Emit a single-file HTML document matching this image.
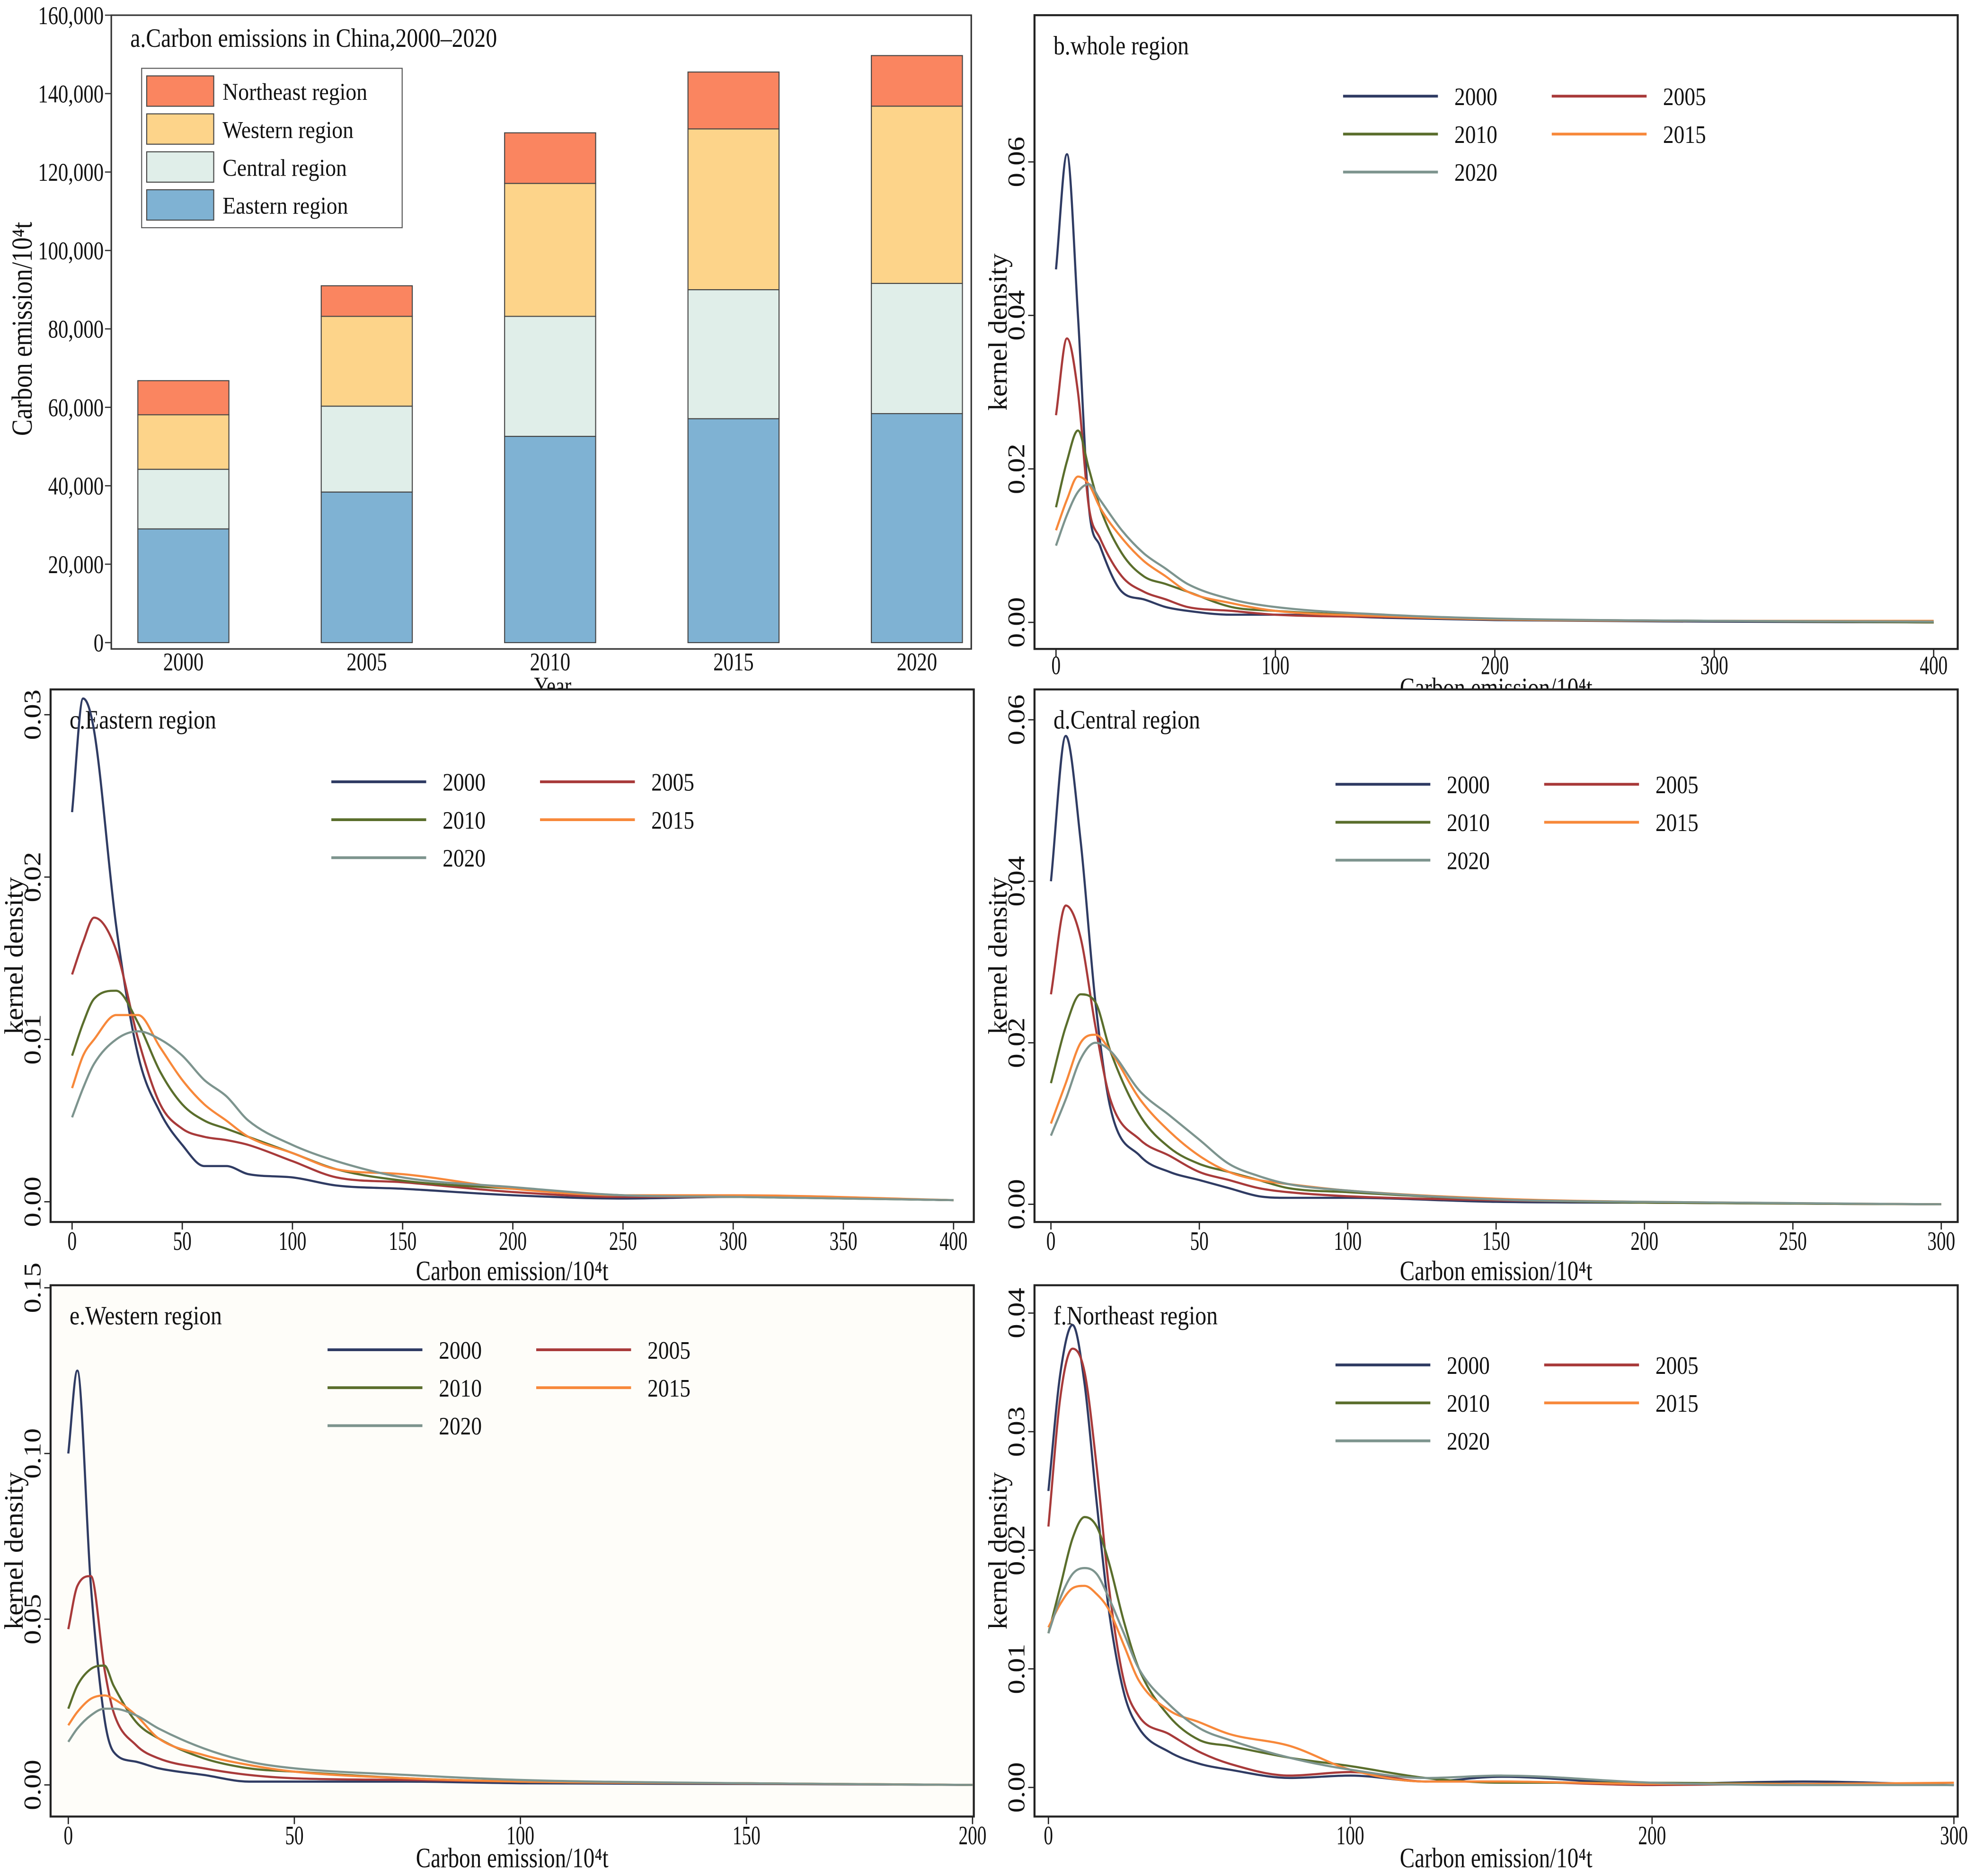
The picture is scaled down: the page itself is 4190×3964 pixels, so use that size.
<!DOCTYPE html>
<html><head><meta charset="utf-8"><title>Carbon emissions in China</title>
<style>
html,body{margin:0;padding:0;background:#fff;}
svg{display:block;}
text{font-family:"Liberation Serif",serif;fill:#111;}
</style></head>
<body>
<svg id="fig" xmlns="http://www.w3.org/2000/svg" width="4190" height="3964" viewBox="0 0 1568 1483" preserveAspectRatio="none"></svg>
<script>
// ---------- Panel a data ----------
const years = ["2000","2005","2010","2015","2020"];
const eastern = [29000, 38400, 52600, 57100, 58400];
const central = [15200, 21900, 30600, 32900, 33200];
const western = [13900, 22900, 33900, 41000, 45200];
const northeast = [8700, 7800, 12900, 14500, 12900];
const aTicks = [0,20000,40000,60000,80000,100000,120000,140000,160000];
const aTickLabels = ["0","20,000","40,000","60,000","80,000","100,000","120,000","140,000","160,000"];

// ---------- KDE data ----------
const seriesYears = ["2000","2005","2010","2015","2020"];
const bX = [0,5,10,15,20,30,40,50,60,80,100,150,200,300,400];
const b2000 = [0.046,0.061,0.040,0.015,0.010,0.004,0.003,0.002,0.0015,0.001,0.001,0.0006,0.0003,0.0001,0];
const b2005 = [0.027,0.037,0.030,0.015,0.011,0.006,0.004,0.003,0.002,0.0015,0.001,0.0007,0.0004,0.0002,0];
const b2010 = [0.015,0.021,0.025,0.020,0.015,0.009,0.006,0.005,0.004,0.002,0.0015,0.0008,0.0004,0.0002,0];
const b2015 = [0.012,0.016,0.019,0.018,0.015,0.011,0.008,0.006,0.004,0.0025,0.0015,0.0008,0.0004,0.0002,0.0002];
const b2020 = [0.010,0.014,0.017,0.018,0.016,0.012,0.009,0.007,0.005,0.003,0.002,0.001,0.0005,0.0002,0.0001];

const cX = [0,5,10,20,30,40,50,60,70,80,100,120,150,200,250,300,400];
const c2000 = [0.024,0.031,0.029,0.017,0.009,0.0055,0.0035,0.0022,0.0022,0.0017,0.0015,0.001,0.0008,0.0004,0.0002,0.0003,0.0001];
const c2005 = [0.014,0.016,0.0175,0.0155,0.010,0.006,0.0045,0.004,0.0038,0.0035,0.0025,0.0015,0.0012,0.0006,0.0003,0.0003,0.0001];
const c2010 = [0.009,0.011,0.0125,0.013,0.011,0.008,0.006,0.005,0.0045,0.004,0.003,0.002,0.0013,0.0008,0.0004,0.0003,0.0001];
const c2015 = [0.007,0.009,0.010,0.0115,0.0115,0.0095,0.0075,0.006,0.005,0.004,0.003,0.002,0.0017,0.0008,0.0004,0.0004,0.0001];
const c2020 = [0.0052,0.007,0.0085,0.010,0.0105,0.010,0.009,0.0075,0.0065,0.005,0.0035,0.0025,0.0015,0.0009,0.0004,0.0003,0.0001];

const dX = [0,5,10,15,20,30,40,50,60,70,80,100,150,200,300];
const d2000 = [0.040,0.058,0.045,0.025,0.012,0.006,0.004,0.003,0.002,0.001,0.0008,0.0008,0.0003,0.0002,0];
const d2005 = [0.026,0.037,0.033,0.022,0.013,0.008,0.006,0.004,0.003,0.002,0.0015,0.001,0.0005,0.0002,0];
const d2010 = [0.015,0.022,0.026,0.025,0.019,0.011,0.007,0.005,0.004,0.003,0.002,0.0015,0.0006,0.0002,0];
const d2015 = [0.010,0.015,0.020,0.021,0.019,0.013,0.009,0.006,0.004,0.003,0.0025,0.0017,0.0007,0.0003,0];
const d2020 = [0.0085,0.013,0.018,0.020,0.019,0.014,0.011,0.008,0.005,0.0035,0.0025,0.0017,0.0006,0.0003,0];

const eX = [0,2,5,8,10,15,20,30,40,50,75,100,150,200];
const e2000 = [0.10,0.125,0.06,0.02,0.01,0.007,0.005,0.003,0.001,0.001,0.001,0.0005,0.0003,0];
const e2005 = [0.047,0.06,0.063,0.035,0.022,0.012,0.008,0.005,0.003,0.002,0.0015,0.001,0.0004,0];
const e2010 = [0.023,0.030,0.035,0.036,0.030,0.019,0.014,0.008,0.005,0.004,0.002,0.001,0.0005,0];
const e2015 = [0.018,0.022,0.026,0.027,0.026,0.021,0.014,0.009,0.006,0.004,0.002,0.001,0.0005,0];
const e2020 = [0.013,0.017,0.021,0.023,0.023,0.021,0.017,0.011,0.007,0.005,0.003,0.0015,0.0005,0];

const fX = [0,4,8,12,16,20,25,30,40,50,60,80,100,125,150,200,250,300];
const f2000 = [0.025,0.035,0.039,0.034,0.024,0.015,0.008,0.005,0.003,0.002,0.0015,0.0008,0.001,0.0005,0.0009,0.0003,0.0005,0.0002];
const f2005 = [0.022,0.033,0.037,0.035,0.027,0.017,0.009,0.006,0.0045,0.003,0.002,0.001,0.0013,0.0005,0.0005,0.0002,0.0003,0.0002];
const f2010 = [0.013,0.017,0.021,0.0228,0.022,0.019,0.014,0.010,0.006,0.004,0.0035,0.0025,0.0018,0.0008,0.0004,0.0004,0.0003,0.0002];
const f2015 = [0.0135,0.0155,0.0168,0.017,0.0163,0.015,0.012,0.009,0.0065,0.0055,0.0045,0.0035,0.0015,0.0005,0.0005,0.0003,0.0003,0.0004];
const f2020 = [0.013,0.016,0.018,0.0185,0.018,0.016,0.013,0.010,0.007,0.005,0.004,0.0025,0.0015,0.0008,0.001,0.0004,0.0002,0.0002];

const bXTicks=[0,100,200,300,400], bYTicks=[0,0.02,0.04,0.06], bYLabels=["0.00","0.02","0.04","0.06"];
const cXTicks=[0,50,100,150,200,250,300,350,400], cYTicks=[0,0.01,0.02,0.03], cYLabels=["0.00","0.01","0.02","0.03"];
const dXTicks=[0,50,100,150,200,250,300], dYTicks=[0,0.02,0.04,0.06], dYLabels=["0.00","0.02","0.04","0.06"];
const eXTicks=[0,50,100,150,200], eYTicks=[0,0.05,0.10,0.15], eYLabels=["0.00","0.05","0.10","0.15"];
const fXTicks=[0,100,200,300], fYTicks=[0,0.01,0.02,0.03,0.04], fYLabels=["0.00","0.01","0.02","0.03","0.04"];

const NS="http://www.w3.org/2000/svg";
const svg=document.getElementById('fig');
const COLORS=["#2F3B63","#A83A3A","#5A6E2C","#F7883A","#7D948E"];

function el(tag,attrs,parent){const e=document.createElementNS(NS,tag);for(const k in attrs)e.setAttribute(k,attrs[k]);(parent||svg).appendChild(e);return e;}
function txt(parent,x,y,s,size,anchor,rot,sx){
  const g=el('g',{transform:`translate(${x},${y})`+(rot?` rotate(${rot})`:'')+` scale(${sx||0.85},1)`},parent);
  const t=el('text',{x:0,y:0,'font-size':size,'text-anchor':anchor||'start'},g);
  t.textContent=s;
  
  return t;
}

// ---------- Panel a ----------
(function(){
  const g=el('g',{});
  
  
  const L=88,R=768,T=12,B=513, y0=508, yTop=12;
  const ys=v=>y0-(v/160000)*(y0-yTop);
  const cx=i=>145+i*145;
  const bw=72;
  const fr=el('rect',{x:L,y:T,width:R-L,height:B-T,fill:'#fff',stroke:'#333','stroke-width':1.2},g);
  
  const regs=[["eastern",eastern,"#7FB2D3"],["central",central,"#E0EEE9"],["western",western,"#FDD48A"],["northeast",northeast,"#FA8560"]];
  years.forEach((yr,i)=>{
    let base=0;
    regs.forEach(([nm,arr,col])=>{
      const top=base+arr[i];
      const r=el('rect',{x:cx(i)-bw/2,y:ys(top),width:bw,height:ys(base)-ys(top),fill:col,stroke:'#444','stroke-width':0.8},g);
      
      
      base=top;
    });
    const t=txt(g,cx(i),530,yr,20,'middle',0,0.8);
    
  });
  aTicks.forEach((v,i)=>{
    el('line',{x1:L-5,x2:L,y1:ys(v),y2:ys(v),stroke:'#333'},g);
    const t=txt(g,L-6,ys(v)+7,aTickLabels[i],20,'end',0,0.8);
    
  });
  let t=txt(g,437,549,"Year",20,'middle',0,0.8);
  t=txt(g,25,260,"Carbon emission/10⁴t",23,'middle',-90,0.85);
  t=txt(g,103,37,"a.Carbon emissions in China,2000–2020",21,'start',0,0.85);
  const lg=el('g',{},g);
  el('rect',{x:112,y:54,width:206,height:126,fill:'#fff',stroke:'#555','stroke-width':0.8},lg);
  const leg=[["Northeast region","#FA8560"],["Western region","#FDD48A"],["Central region","#E0EEE9"],["Eastern region","#7FB2D3"]];
  leg.forEach(([n,c],i)=>{
    const r=el('rect',{x:116,y:60+i*30,width:53,height:24,fill:c,stroke:'#444','stroke-width':0.8},lg);
    
    const tt=txt(lg,176,79+i*30,n,19,'start',0,0.9);
  });
})();

// ---------- KDE panels ----------
function monotonePath(px,py){
  const n=px.length, d=[], m=new Array(n);
  for(let i=0;i<n-1;i++)d.push((py[i+1]-py[i])/(px[i+1]-px[i]));
  m[0]=d[0];m[n-1]=d[n-2];
  for(let i=1;i<n-1;i++){m[i]=(d[i-1]*d[i]<=0)?0:(d[i-1]+d[i])/2;}
  for(let i=0;i<n-1;i++){ if(d[i]===0){m[i]=0;m[i+1]=0;continue;}
    const a=m[i]/d[i],b=m[i+1]/d[i],s=a*a+b*b; if(s>9){const t=3/Math.sqrt(s);m[i]=t*a*d[i];m[i+1]=t*b*d[i];}}
  let p=`M${px[0]},${py[0]}`;
  for(let i=0;i<n-1;i++){const h=px[i+1]-px[i];
    p+=` C${px[i]+h/3},${py[i]+m[i]*h/3} ${px[i+1]-h/3},${py[i+1]-m[i+1]*h/3} ${px[i+1]},${py[i+1]}`;}
  return p;
}
function kde(cfg){
  const g=el('g',{});
  
  
  const bg=el('rect',{x:cfg.L,y:cfg.T,width:cfg.R-cfg.L,height:cfg.B-cfg.T,fill:cfg.bg||'#fff',stroke:'#222','stroke-width':1.6},g);
  
  const xs=v=>cfg.x0+(v/cfg.xmax)*(cfg.x1-cfg.x0);
  const ys=v=>cfg.y0-(v/cfg.ymax)*(cfg.y0-cfg.y1);
  cfg.xTicks.forEach(v=>{
    el('line',{x1:xs(v),x2:xs(v),y1:cfg.B,y2:cfg.B+6,stroke:'#222'},g);
    const t=txt(g,xs(v),cfg.B+cfg.tk,String(v),21,'middle',0,0.7);
  });
  cfg.yTicks.forEach((v,i)=>{
    el('line',{x1:cfg.L-5,x2:cfg.L,y1:ys(v),y2:ys(v),stroke:'#222'},g);
    const t=txt(g,cfg.L-8,ys(v),cfg.yLabels[i],19,'middle',-90,1.2);
  });
  let t=txt(g,(cfg.L+cfg.R)/2,cfg.B+cfg.tt,"Carbon emission/10⁴t",22,'middle',0,0.8);
  t=txt(g,cfg.L-22,(cfg.T+cfg.B)/2,"kernel density",21,'middle',-90,1.05);
  t=txt(g,cfg.L+15,cfg.T+31,cfg.title,21,'start',0,0.85);
  cfg.series.forEach((arr,k)=>{
    const p=el('path',{d:monotonePath(cfg.xs.map(xs),arr.map(ys)),fill:'none',stroke:COLORS[k],'stroke-width':1.7,'stroke-linejoin':'round'},g);
    
    
  });
  const lg=el('g',{},g);
  seriesYears.forEach((yr,k)=>{
    const col=k%2, row=Math.floor(k/2);
    const lx=cfg.lx+col*165, ly=cfg.ly+row*30;
    const ln=el('line',{x1:lx,x2:lx+75,y1:ly,y2:ly,stroke:COLORS[k],'stroke-width':2.2},lg);
    
    const tt=txt(lg,lx+88,ly+7,yr,20,'start',0,0.85);
  });
}
kde({name:'kde-whole-region',title:'b.whole region',L:818,R:1548,T:12,B:513,x0:835,x1:1529,xmax:400,y0:492,y1:128,ymax:0.06,tk:20,tt:38,
  xs:bX,series:[b2000,b2005,b2010,b2015,b2020],xTicks:bXTicks,yTicks:bYTicks,yLabels:bYLabels,lx:1062,ly:76});
kde({name:'kde-eastern-region',title:'c.Eastern region',L:40,R:770,T:545,B:966,x0:57,x1:754,xmax:400,y0:950,y1:565,ymax:0.03,tk:22,tt:46,
  xs:cX,series:[c2000,c2005,c2010,c2015,c2020],xTicks:cXTicks,yTicks:cYTicks,yLabels:cYLabels,lx:262,ly:618});
kde({name:'kde-central-region',title:'d.Central region',L:818,R:1548,T:545,B:966,x0:831,x1:1535,xmax:300,y0:952,y1:569,ymax:0.06,tk:22,tt:46,
  xs:dX,series:[d2000,d2005,d2010,d2015,d2020],xTicks:dXTicks,yTicks:dYTicks,yLabels:dYLabels,lx:1056,ly:620});
kde({name:'kde-western-region',title:'e.Western region',L:40,R:770,T:1016,B:1436,bg:'#FEFDF9',x0:54,x1:769,xmax:200,y0:1411,y1:1018,ymax:0.15,tk:22,tt:40,
  xs:eX,series:[e2000,e2005,e2010,e2015,e2020],xTicks:eXTicks,yTicks:eYTicks,yLabels:eYLabels,lx:259,ly:1067});
kde({name:'kde-northeast-region',title:'f.Northeast region',L:818,R:1548,T:1016,B:1436,x0:829,x1:1545,xmax:300,y0:1413,y1:1038,ymax:0.04,tk:22,tt:40,
  xs:fX,series:[f2000,f2005,f2010,f2015,f2020],xTicks:fXTicks,yTicks:fYTicks,yLabels:fYLabels,lx:1056,ly:1079});
</script>
</body></html>
